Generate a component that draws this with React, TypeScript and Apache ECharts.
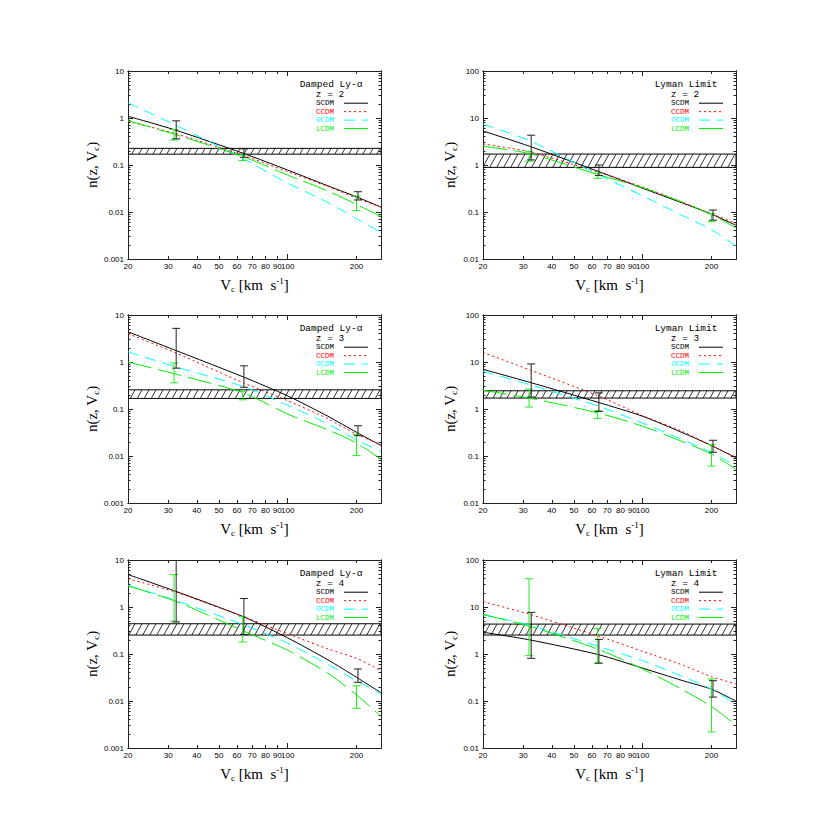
import React, { useEffect, useRef } from 'react';
import * as echarts from 'echarts';

// ---------- data ----------
const V = [20, 32, 64, 100, 150, 200, 256];
const X_MIN = 20;
const X_MAX = 256;
const X_LABELS = [20, 30, 40, 50, 60, 70, 80, 90, 100, 200];
const X_MINOR_TICKS = [20, 30, 40, 50, 60, 70, 80, 90, 200];
const X_MAJOR_TICKS = [100];
const Y_LABELS_DLA = [0.001, 0.01, 0.1, 1, 10];
const Y_LABELS_LLS = [0.01, 0.1, 1, 10, 100];

const MODELS = ['SCDM', 'CCDM', 'OCDM', 'LCDM'];
const ERR_X_BLACK = [32.5, 64.3, 203];
const ERR_X_GREEN = [31.8, 63.5, 200];

// Damped Ly-alpha, z = 2
const DLA2_SCDM = [1.09, 0.56, 0.177, 0.078, 0.036, 0.021, 0.0127];
const DLA2_CCDM = [0.85, 0.47, 0.16, 0.072, 0.035, 0.0198, 0.0127];
const DLA2_OCDM = [2.1, 0.72, 0.135, 0.041, 0.016, 0.0072, 0.0037];
const DLA2_LCDM = [0.88, 0.45, 0.15, 0.061, 0.028, 0.0145, 0.008];
const DLA2_BAND = [0.17, 0.226];
const DLA2_ERR_BLACK = [[0.36, 0.87], [0.146, 0.22], [0.018, 0.027]];
const DLA2_ERR_GREEN = [[0.34, 0.57], [0.125, 0.163], [0.0107, 0.022]];

// Lyman limit, z = 2
const LLS2_SCDM = [5.3, 2.5, 0.73, 0.32, 0.154, 0.09, 0.052];
const LLS2_CCDM = [2.8, 1.9, 0.7, 0.34, 0.16, 0.092, 0.057];
const LLS2_OCDM = [7.4, 3.3, 0.62, 0.22, 0.083, 0.042, 0.019];
const LLS2_LCDM = [2.5, 1.75, 0.62, 0.33, 0.16, 0.088, 0.046];
const LLS2_BAND = [0.89, 1.71];
const LLS2_ERR_BLACK = [[1.28, 4.3], [0.6, 1.0], [0.067, 0.11]];
const LLS2_ERR_GREEN = [[1.2, 1.95], [0.52, 0.67], [0.062, 0.093]];

// Damped Ly-alpha, z = 3
const DLA3_SCDM = [4.4, 1.8, 0.48, 0.19, 0.07, 0.032, 0.0167];
const DLA3_CCDM = [4.0, 1.6, 0.36, 0.15, 0.062, 0.029, 0.0175];
const DLA3_OCDM = [1.65, 0.8, 0.3, 0.12, 0.048, 0.022, 0.0125];
const DLA3_LCDM = [1.0, 0.56, 0.22, 0.078, 0.036, 0.019, 0.0085];
const DLA3_BAND = [0.168, 0.256];
const DLA3_ERR_BLACK = [[0.74, 5.2], [0.29, 0.83], [0.027, 0.044]];
const DLA3_ERR_GREEN = [[0.36, 0.95], [0.157, 0.237], [0.0102, 0.029]];

// Lyman limit, z = 3
const LLS3_SCDM = [7.0, 3.7, 1.38, 0.7, 0.31, 0.167, 0.091];
const LLS3_CCDM = [16, 6.8, 1.9, 0.72, 0.33, 0.165, 0.094];
const LLS3_OCDM = [6.3, 3.3, 1.15, 0.5, 0.22, 0.12, 0.061];
const LLS3_LCDM = [2.5, 1.7, 0.82, 0.43, 0.2, 0.11, 0.052];
const LLS3_BAND = [1.71, 2.44];
const LLS3_ERR_BLACK = [[1.8, 9.1], [0.89, 2.2], [0.12, 0.216]];
const LLS3_ERR_GREEN = [[1.1, 2.65], [0.63, 0.92], [0.061, 0.175]];

// Damped Ly-alpha, z = 4
const DLA4_SCDM = [4.9, 2.2, 0.62, 0.22, 0.075, 0.032, 0.015];
const DLA4_CCDM = [4.0, 2.1, 0.62, 0.27, 0.128, 0.081, 0.044];
const DLA4_OCDM = [2.9, 1.4, 0.42, 0.17, 0.06, 0.027, 0.014];
const DLA4_LCDM = [2.8, 1.35, 0.31, 0.12, 0.039, 0.0135, 0.0047];
const DLA4_BAND = [0.253, 0.44];
const DLA4_ERR_BLACK = [[0.48, 12], [0.26, 1.52], [0.025, 0.048]];
const DLA4_ERR_GREEN = [[0.5, 4.9], [0.18, 0.62], [0.007, 0.021]];

// Lyman limit, z = 4
const LLS4_SCDM = [2.9, 2.0, 0.97, 0.5, 0.27, 0.178, 0.1];
const LLS4_CCDM = [13, 7.0, 2.4, 1.14, 0.58, 0.33, 0.23];
const LLS4_OCDM = [6.9, 4.1, 1.45, 0.72, 0.33, 0.178, 0.085];
const LLS4_LCDM = [6.9, 3.9, 1.25, 0.48, 0.172, 0.076, 0.031];
const LLS4_BAND = [2.53, 4.33];
const LLS4_ERR_BLACK = [[0.81, 7.7], [0.64, 2.05], [0.121, 0.27]];
const LLS4_ERR_GREEN = [[0.92, 40], [0.635, 3.5], [0.022, 0.295]];

const PANELS = [
  { title: 'Damped Ly-α', z: 'z = 2', yLabels: Y_LABELS_DLA, curves: [DLA2_SCDM, DLA2_CCDM, DLA2_OCDM, DLA2_LCDM], band: DLA2_BAND, errBlack: DLA2_ERR_BLACK, errGreen: DLA2_ERR_GREEN },
  { title: 'Lyman Limit', z: 'z = 2', yLabels: Y_LABELS_LLS, curves: [LLS2_SCDM, LLS2_CCDM, LLS2_OCDM, LLS2_LCDM], band: LLS2_BAND, errBlack: LLS2_ERR_BLACK, errGreen: LLS2_ERR_GREEN },
  { title: 'Damped Ly-α', z: 'z = 3', yLabels: Y_LABELS_DLA, curves: [DLA3_SCDM, DLA3_CCDM, DLA3_OCDM, DLA3_LCDM], band: DLA3_BAND, errBlack: DLA3_ERR_BLACK, errGreen: DLA3_ERR_GREEN },
  { title: 'Lyman Limit', z: 'z = 3', yLabels: Y_LABELS_LLS, curves: [LLS3_SCDM, LLS3_CCDM, LLS3_OCDM, LLS3_LCDM], band: LLS3_BAND, errBlack: LLS3_ERR_BLACK, errGreen: LLS3_ERR_GREEN },
  { title: 'Damped Ly-α', z: 'z = 4', yLabels: Y_LABELS_DLA, curves: [DLA4_SCDM, DLA4_CCDM, DLA4_OCDM, DLA4_LCDM], band: DLA4_BAND, errBlack: DLA4_ERR_BLACK, errGreen: DLA4_ERR_GREEN },
  { title: 'Lyman Limit', z: 'z = 4', yLabels: Y_LABELS_LLS, curves: [LLS4_SCDM, LLS4_CCDM, LLS4_OCDM, LLS4_LCDM], band: LLS4_BAND, errBlack: LLS4_ERR_BLACK, errGreen: LLS4_ERR_GREEN },
];

// ---------- styling ----------
const COLORS = ['#000000', '#ff0000', '#00ffff', '#00ee00'];
const DASHES: any[] = ['solid', [2, 3], [11, 7], [24, 7]];
const ERR_BLACK_COLOR = '#222222';
const ERR_GREEN_COLOR = '#22ee22';
const GRID_LEFTS = [128, 483];
const GRID_TOPS = [71, 315, 560];
const GRID_W = 253;
const GRID_H = 188;
const AXIS_COLOR = '#222';
const TICK_FONT = 'Liberation Sans';
const MONO = 'Liberation Mono';
const SERIF = 'Liberation Serif';

function minorTicks(decades: number[]) {
  const out: number[] = [];
  const top = decades[decades.length - 1];
  decades.forEach((d) => {
    for (let k = 2; k <= 9; k++) {
      const v = parseFloat((k * d).toPrecision(3));
      if (v < top) out.push(v);
    }
  });
  return out;
}

function errRender(color: string) {
  return (params: any, api: any) => {
    const x = api.value(0);
    const lo = api.value(1);
    const hi = api.value(2);
    const t = api.coord([x, hi]);
    const b = api.coord([x, lo]);
    const w = 4;
    const st = { stroke: color, lineWidth: 1 };
    return {
      type: 'group',
      children: [
        { type: 'line', shape: { x1: t[0], y1: t[1], x2: b[0], y2: b[1] }, style: st },
        { type: 'line', shape: { x1: t[0] - w, y1: t[1], x2: t[0] + w, y2: t[1] }, style: st },
        { type: 'line', shape: { x1: b[0] - w, y1: b[1], x2: b[0] + w, y2: b[1] }, style: st },
      ],
    };
  };
}

function bandRender(params: any, api: any) {
  const cs = params.coordSys;
  const yTop = api.coord([X_MIN, api.value(2)])[1];
  const yBot = api.coord([X_MIN, api.value(1)])[1];
  const x1 = cs.x;
  const x2 = cs.x + cs.width;
  const h = yBot - yTop;
  const dx = h * 0.55;
  const children: any[] = [
    { type: 'rect', shape: { x: x1, y: yTop, width: x2 - x1, height: h }, style: { fill: 'none', stroke: '#000', lineWidth: 1 } },
  ];
  for (let bx = x1 - dx; bx < x2; bx += 7) {
    const s0 = Math.max(0, (x1 - bx) / dx);
    const s1 = Math.min(1, (x2 - bx) / dx);
    if (s1 > s0) {
      children.push({
        type: 'line',
        shape: { x1: bx + s0 * dx, y1: yBot - s0 * h, x2: bx + s1 * dx, y2: yBot - s1 * h },
        style: { stroke: '#000', lineWidth: 0.8 },
      });
    }
  }
  return { type: 'group', children };
}

function buildOption() {
  const grid: any[] = [];
  const xAxis: any[] = [];
  const yAxis: any[] = [];
  const series: any[] = [];
  const legend: any[] = [];
  const graphic: any[] = [];

  PANELS.forEach((p, i) => {
    const gl = GRID_LEFTS[i % 2];
    const gt = GRID_TOPS[Math.floor(i / 2)];
    grid.push({ left: gl, top: gt, width: GRID_W, height: GRID_H, containLabel: false });
    const ymin = p.yLabels[0];
    const ymax = p.yLabels[p.yLabels.length - 1];
    const yMinor = minorTicks(p.yLabels);
    const line = { show: true, onZero: false, lineStyle: { color: AXIS_COLOR, width: 1 } };

    const xBase = { type: 'log', logBase: 10, min: X_MIN, max: X_MAX, gridIndex: i, splitLine: { show: false }, axisLine: line };
    xAxis.push({
      ...xBase,
      position: 'bottom',
      axisTick: { show: true, inside: true, length: 5, customValues: X_MAJOR_TICKS, lineStyle: { color: AXIS_COLOR } },
      axisLabel: { show: true, customValues: X_LABELS, interval: 0, margin: 3, fontSize: 8, fontFamily: TICK_FONT, color: '#000', formatter: (v: number) => String(Math.round(v)) },
      name: 'V{sub|c} [km  s{sup|-1}]',
      nameLocation: 'middle',
      nameGap: 17,
      nameTextStyle: {
        fontFamily: SERIF, fontSize: 15, color: '#000',
        rich: { sub: { fontFamily: SERIF, fontSize: 9, padding: [8, 0, 0, 0], color: '#000' }, sup: { fontFamily: SERIF, fontSize: 9, padding: [0, 0, 8, 0], color: '#000' } },
      },
    });
    xAxis.push({ ...xBase, position: 'bottom', axisTick: { show: true, inside: true, length: 3, customValues: X_MINOR_TICKS, lineStyle: { color: AXIS_COLOR } }, axisLabel: { show: false } });
    xAxis.push({ ...xBase, position: 'top', axisTick: { show: true, inside: true, length: 5, customValues: X_MAJOR_TICKS, lineStyle: { color: AXIS_COLOR } }, axisLabel: { show: false } });
    xAxis.push({ ...xBase, position: 'top', axisTick: { show: true, inside: true, length: 3, customValues: X_MINOR_TICKS, lineStyle: { color: AXIS_COLOR } }, axisLabel: { show: false } });

    const yBase = { type: 'log', logBase: 10, min: ymin, max: ymax, gridIndex: i, splitLine: { show: false }, axisLine: line };
    yAxis.push({
      ...yBase,
      position: 'left',
      axisTick: { show: true, inside: true, length: 5, customValues: p.yLabels, lineStyle: { color: AXIS_COLOR } },
      axisLabel: { show: true, customValues: p.yLabels, margin: 4, fontSize: 8, fontFamily: TICK_FONT, color: '#000', formatter: (v: number) => String(v) },
      name: 'n(z, V{sub|c})',
      nameLocation: 'middle',
      nameRotate: 90,
      nameGap: 25,
      nameTextStyle: {
        fontFamily: SERIF, fontSize: 15, color: '#000',
        rich: { sub: { fontFamily: SERIF, fontSize: 9, padding: [8, 0, 0, 0], color: '#000' } },
      },
    });
    yAxis.push({ ...yBase, position: 'left', axisTick: { show: true, inside: true, length: 2.5, customValues: yMinor, lineStyle: { color: AXIS_COLOR } }, axisLabel: { show: false } });
    yAxis.push({ ...yBase, position: 'right', axisTick: { show: true, inside: true, length: 5, customValues: p.yLabels, lineStyle: { color: AXIS_COLOR } }, axisLabel: { show: false } });
    yAxis.push({ ...yBase, position: 'right', axisTick: { show: true, inside: true, length: 2.5, customValues: yMinor, lineStyle: { color: AXIS_COLOR } }, axisLabel: { show: false } });

    const xi = i * 4;
    const yi = i * 4;

    series.push({
      type: 'custom', name: 'band' + i, xAxisIndex: xi, yAxisIndex: yi, clip: true, silent: true,
      renderItem: bandRender, encode: { x: 0, y: [1, 2] },
      data: [[X_MIN, p.band[0], p.band[1]]], z: 1,
    });

    p.curves.forEach((vals, k) => {
      series.push({
        type: 'line', name: MODELS[k], xAxisIndex: xi, yAxisIndex: yi,
        data: V.map((v, j) => [v, vals[j]]),
        symbol: 'none', smooth: 0.25, clip: true, silent: true,
        lineStyle: { color: COLORS[k], width: 1, type: DASHES[k] },
        itemStyle: { color: COLORS[k] }, z: 2,
      });
    });

    series.push({
      type: 'custom', name: 'errGreen' + i, xAxisIndex: xi, yAxisIndex: yi, clip: true, silent: true,
      renderItem: errRender(ERR_GREEN_COLOR), encode: { x: 0, y: [1, 2] },
      data: ERR_X_GREEN.map((x, j) => [x, p.errGreen[j][0], p.errGreen[j][1]]), z: 3,
    });
    series.push({
      type: 'custom', name: 'errBlack' + i, xAxisIndex: xi, yAxisIndex: yi, clip: true, silent: true,
      renderItem: errRender(ERR_BLACK_COLOR), encode: { x: 0, y: [1, 2] },
      data: ERR_X_BLACK.map((x, j) => [x, p.errBlack[j][0], p.errBlack[j][1]]), z: 3,
    });

    legend.push({
      orient: 'vertical', left: gl + 188, top: gt + 28.2, padding: 0,
      itemWidth: 24, itemHeight: 7, itemGap: 0.45, align: 'right', selectedMode: false,
      itemStyle: { opacity: 0, color: 'rgba(0,0,0,0)', borderWidth: 0 },
      textStyle: { fontFamily: MONO, fontSize: 7.5, lineHeight: 7, padding: [0, 5, 0, 0] },
      data: MODELS.map((m, k) => ({
        name: m,
        textStyle: { color: COLORS[k] },
        itemStyle: { opacity: 0, color: 'rgba(0,0,0,0)', borderWidth: 0 },
        lineStyle: { color: COLORS[k], width: 1, type: DASHES[k] },
      })),
    });

    graphic.push({
      type: 'text', x: gl + 203, y: gt + 13.5, silent: true,
      style: { text: p.title, fontFamily: MONO, fontSize: 9.5, fill: '#000', align: 'center', verticalAlign: 'middle' },
    });
    graphic.push({
      type: 'text', x: gl + 202, y: gt + 23, silent: true,
      style: { text: p.z, fontFamily: MONO, fontSize: 9.5, fill: '#000', align: 'center', verticalAlign: 'middle' },
    });
  });

  return { animation: false, backgroundColor: '#ffffff', grid, xAxis, yAxis, series, legend, graphic };
}

export default function App() {
  const ref = useRef<HTMLDivElement>(null);
  useEffect(() => {
    if (!ref.current) return;
    const chart = echarts.init(ref.current, null, { renderer: 'svg' });
    chart.setOption(buildOption() as any);
    return () => chart.dispose();
  }, []);
  return (
    <div
      ref={ref}
      style={{ position: 'fixed', left: 0, top: 0, width: 830, height: 830, background: '#fff' }}
    />
  );
}
